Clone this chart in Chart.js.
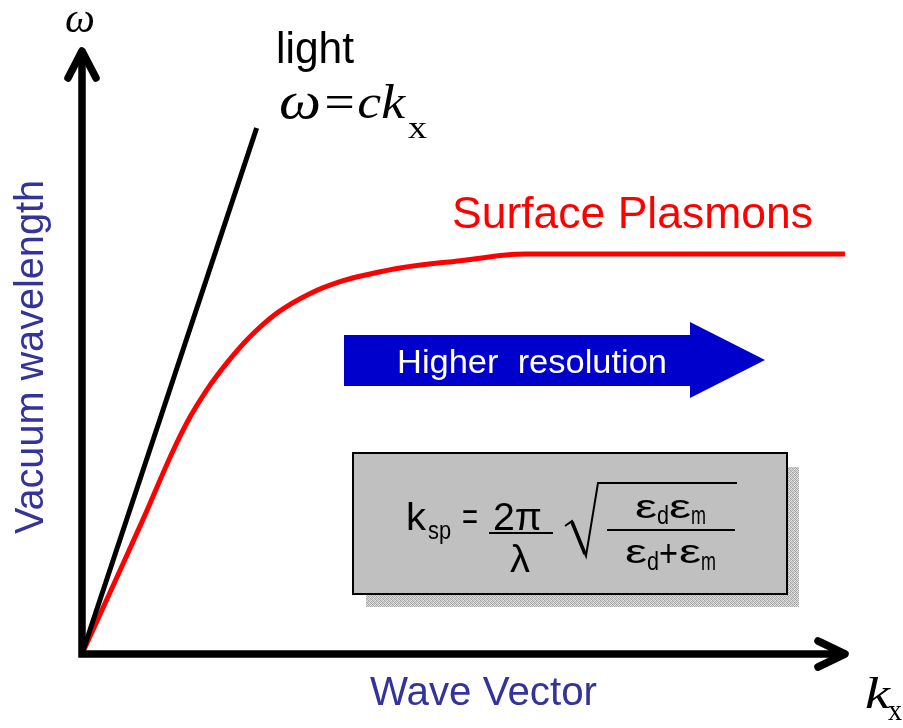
<!DOCTYPE html>
<html>
<head>
<meta charset="utf-8">
<script src="https://cdn.jsdelivr.net/npm/chart.js@4.4.0/dist/chart.umd.min.js"></script>
<style>
  html, body { margin: 0; padding: 0; background: #fff; }
  canvas { display: block; }
</style>
</head>
<body>
<canvas id="dispersion" width="903" height="728"></canvas>
<script>
// light line  w = c*k
const kLight = [0, 2.28];
const wLight = [0, 8.68];
// surface plasmon dispersion
const kPlasmon = [0, 0.41, 0.80, 1.18, 1.41, 1.63, 1.89, 2.19, 2.55, 2.98, 3.41, 3.76, 4.15, 4.94, 5.78, 9.96];
const wPlasmon = [0, 1.14, 2.23, 3.33, 3.91, 4.36, 4.80, 5.23, 5.63, 5.95, 6.16, 6.27, 6.37, 6.49, 6.60, 6.60];
const axisMax = 10;

const sans = '"Liberation Sans", Arial, sans-serif';
const serif = '"Liberation Serif", "Times New Roman", serif';
const labelBlue = '#333399';

function toPoints(xs, ys) {
  return xs.map((x, i) => ({ x: x, y: ys[i] }));
}

// draw text squeezed/stretched to a given width
function fitText(ctx, text, left, baseline, width, font, color) {
  ctx.save();
  ctx.font = font;
  ctx.fillStyle = color;
  ctx.textBaseline = 'alphabetic';
  const w = ctx.measureText(text).width;
  ctx.translate(left, baseline);
  ctx.scale(width / w, 1);
  ctx.fillText(text, 0, 0);
  ctx.restore();
}

function shadowPattern(ctx) {
  const tile = document.createElement('canvas');
  tile.width = 4; tile.height = 4;
  const t = tile.getContext('2d');
  const greys = [160, 210, 180, 225, 215, 170, 230, 185, 175, 235, 160, 205, 220, 190, 210, 170];
  greys.forEach((g, i) => {
    t.fillStyle = 'rgb(' + g + ',' + g + ',' + g + ')';
    t.fillRect(i % 4, Math.floor(i / 4), 1, 1);
  });
  return ctx.createPattern(tile, 'repeat');
}

const axesPlugin = {
  id: 'arrowAxes',
  afterDatasetsDraw(chart) {
    const { ctx, scales: { x, y } } = chart;
    const x0 = x.getPixelForValue(0), y0 = y.getPixelForValue(0);
    const xEnd = x.getPixelForValue(axisMax), yEnd = y.getPixelForValue(axisMax);
    ctx.save();
    ctx.strokeStyle = '#000';
    ctx.lineWidth = 7.5;
    ctx.lineCap = 'butt';
    ctx.beginPath();
    ctx.moveTo(x0 - 3.5, y0);
    ctx.lineTo(xEnd - 4, y0);
    ctx.moveTo(x0, y0 + 3.5);
    ctx.lineTo(x0, yEnd + 4);
    ctx.stroke();
    ctx.lineCap = 'round';
    ctx.lineJoin = 'round';
    ctx.beginPath();
    ctx.moveTo(xEnd - 30, y0 - 13);
    ctx.lineTo(xEnd - 3, y0);
    ctx.lineTo(xEnd - 30, y0 + 13);
    ctx.moveTo(x0 - 14, yEnd + 30);
    ctx.lineTo(x0, yEnd + 3);
    ctx.lineTo(x0 + 14, yEnd + 30);
    ctx.stroke();
    ctx.restore();
  }
};

const notesPlugin = {
  id: 'notes',
  afterDraw(chart) {
    const ctx = chart.ctx;

    // axis symbols and labels
    fitText(ctx, 'ω', 65, 32, 30, 'italic 42px ' + serif, '#000');
    fitText(ctx, 'k', 865, 708, 25, 'italic 44px ' + serif, '#000');
    fitText(ctx, 'x', 888, 720, 14, '30px ' + serif, '#000');
    fitText(ctx, 'Wave Vector', 370, 705, 227, '40px ' + sans, labelBlue);
    ctx.save();
    ctx.translate(43, 534);
    ctx.rotate(-Math.PI / 2);
    fitText(ctx, 'Vacuum wavelength', 0, 0, 354, '40px ' + sans, labelBlue);
    ctx.restore();

    // light label
    fitText(ctx, 'light', 276, 63, 78, '44px ' + sans, '#000');
    fitText(ctx, 'ω', 279, 118, 42, 'italic 52px ' + serif, '#000');
    fitText(ctx, '=ck', 321, 118, 84, 'italic 48px ' + serif, '#000');
    fitText(ctx, 'x', 408, 138, 19, '32px ' + serif, '#000');

    // plasmon label
    fitText(ctx, 'Surface Plasmons', 452, 228, 361, '44px ' + sans, '#ff0000');

    // blue arrow
    ctx.save();
    ctx.fillStyle = '#0000cc';
    ctx.beginPath();
    ctx.moveTo(344, 335);
    ctx.lineTo(690, 335);
    ctx.lineTo(690, 322);
    ctx.lineTo(765, 360);
    ctx.lineTo(690, 398);
    ctx.lineTo(690, 386);
    ctx.lineTo(344, 386);
    ctx.closePath();
    ctx.fill();
    ctx.restore();
    fitText(ctx, 'Higher  resolution', 397, 373, 270, '34px ' + sans, '#ffffff');

    // formula box with shadow
    ctx.save();
    ctx.fillStyle = shadowPattern(ctx);
    ctx.fillRect(366, 467, 433, 140);
    ctx.fillStyle = '#c0c0c0';
    ctx.fillRect(353, 453, 434, 141);
    ctx.strokeStyle = '#000';
    ctx.lineWidth = 2;
    ctx.strokeRect(353, 453, 434, 141);
    ctx.restore();

    const f = '38px ' + sans, fe = '34px ' + sans, fs = '26px ' + sans;
    fitText(ctx, 'k', 406, 530, 20, f, '#000');
    fitText(ctx, 'sp', 428, 539, 23, fs, '#000');
    fitText(ctx, '=', 462, 530, 16, f, '#000');
    fitText(ctx, '2π', 493, 530, 49, f, '#000');
    fitText(ctx, 'λ', 510, 572, 20, f, '#000');
    fitText(ctx, 'ε', 635, 518, 22, fe, '#000');
    fitText(ctx, 'd', 657, 524, 12, fs, '#000');
    fitText(ctx, 'ε', 669, 518, 22, fe, '#000');
    fitText(ctx, 'm', 691, 524, 15, fs, '#000');
    fitText(ctx, 'ε', 625, 563, 22, fe, '#000');
    fitText(ctx, 'd', 647, 570, 12, fs, '#000');
    fitText(ctx, '+', 659, 566, 19, f, '#000');
    fitText(ctx, 'ε', 679, 563, 22, fe, '#000');
    fitText(ctx, 'm', 701, 570, 15, fs, '#000');

    ctx.save();
    ctx.strokeStyle = '#000';
    ctx.lineWidth = 2;
    ctx.beginPath();
    ctx.moveTo(489, 533); ctx.lineTo(553, 533);
    ctx.moveTo(607, 530); ctx.lineTo(735, 530);
    ctx.stroke();
    ctx.beginPath();
    ctx.moveTo(565, 526);
    ctx.lineTo(572, 521);
    ctx.lineTo(586, 556);
    ctx.lineTo(598, 483);
    ctx.lineTo(737, 483);
    ctx.stroke();
    ctx.lineWidth = 3.5;
    ctx.beginPath();
    ctx.moveTo(572, 522);
    ctx.lineTo(585, 554);
    ctx.stroke();
    ctx.restore();
  }
};

new Chart(document.getElementById('dispersion'), {
  type: 'scatter',
  data: {
    datasets: [
      {
        label: 'light',
        data: toPoints(kLight, wLight),
        showLine: true,
        borderColor: '#000000',
        borderWidth: 5,
        pointRadius: 0,
        clip: false
      },
      {
        label: 'Surface Plasmons',
        data: toPoints(kPlasmon, wPlasmon),
        showLine: true,
        borderColor: '#ff0000',
        borderWidth: 5,
        pointRadius: 0,
        cubicInterpolationMode: 'monotone',
        clip: false
      }
    ]
  },
  options: {
    responsive: false,
    animation: false,
    layout: { padding: { left: 82, right: 55, top: 48, bottom: 74 } },
    scales: {
      x: { type: 'linear', min: 0, max: axisMax, display: false },
      y: { type: 'linear', min: 0, max: axisMax, display: false }
    },
    plugins: {
      legend: { display: false },
      tooltip: { enabled: false }
    }
  },
  plugins: [axesPlugin, notesPlugin]
});
</script>
</body>
</html>
